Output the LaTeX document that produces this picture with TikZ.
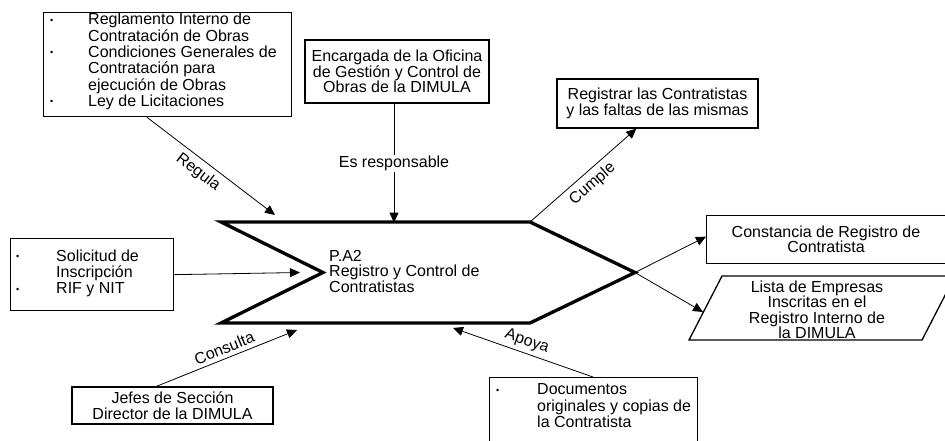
\documentclass[tikz,border=0pt]{standalone}
\usepackage{fontspec}
\setmainfont{Liberation Sans}
\usetikzlibrary{arrows.meta,calc}
\newcommand\dtxt{\fontsize{16}{15.5}\selectfont}
\newcommand\blt{\raisebox{1.5pt}{\fontsize{9}{9}\selectfont\textbullet}}
\tikzset{
  box/.style={draw, line width=1.3pt, inner sep=0pt, font=\dtxt, align=center},
  words/.style={inner sep=0pt, font=\dtxt, align=left},
  link/.style={line width=0.8pt, -{Triangle[length=10pt,width=9pt]}},
  proc/.style={line width=3.3pt, line join=miter},
  tag/.style={font=\dtxt, inner sep=2pt, sloped}
}
\begin{document}
\begin{tikzpicture}[x=1pt,y=-1pt]
\useasboundingbox (0,0) rectangle (945,441);

% process arrow shape
\coordinate (pTL) at (221,222);
\coordinate (pTR) at (530,222);
\coordinate (pTip) at (635,272.5);
\coordinate (pBR) at (530,323);
\coordinate (pBL) at (221,323);
\coordinate (pNotch) at (323,272.5);
\draw[proc] (pTL) -- (pTR) -- (pTip) -- (pBR) -- (pBL) -- (pNotch) -- cycle;
\node[words, anchor=west] (ptxt) at (329,271) {P.A2\\Registro y Control de\\Contratistas};

% regulations
\node[box, minimum width=248pt, minimum height=104pt, anchor=north west] (reg) at (43,12) {};
\node[words, anchor=west] (regtxt) at (50,62) {%
  \begin{tabular}{@{}p{38pt}@{}l@{}}
  \blt & Reglamento Interno de\\
       & Contratación de Obras\\
  \blt & Condiciones Generales de\\
       & Contratación para\\
       & ejecución de Obras\\
  \blt & Ley de Licitaciones
  \end{tabular}};

% responsible
\node[box, minimum width=184pt, minimum height=63pt] (enc) at (397,71.5)
  {Encargada de la Oficina\\de Gestión y Control de\\Obras de la DIMULA};

% purpose
\node[box, minimum width=201pt, minimum height=49pt] (cum) at (657.5,103.5)
  {Registrar las Contratistas\\y las faltas de las mismas};

% inputs
\node[box, minimum width=163pt, minimum height=72pt, anchor=north west] (inp) at (10,238) {};
\node[words, anchor=west] (inptxt) at (16,274) {%
  \begin{tabular}{@{}p{40pt}@{}l@{}}
  \blt & Solicitud de\\
       & Inscripción\\
  \blt & RIF y NIT
  \end{tabular}};

% outputs
\node[box, minimum width=244pt, minimum height=48pt, anchor=north west] (const) at (706,215) {};
\node[words, align=center] (consttxt) at (826,239.5) {Constancia de Registro de\\Contratista};

\coordinate (lBL) at (689,340);
\coordinate (lTL) at (722,276);
\coordinate (lTR) at (955,276);
\coordinate (lBR) at (922,340);
\draw[line width=1.3pt] (lBL) -- (lTL) -- (lTR) -- (lBR) -- cycle;
\node[words, align=center] (lista) at (817,310)
  {Lista de Empresas\\Inscritas en el\\Registro Interno de\\la DIMULA};
\coordinate (lIn) at (703,312);

% consulted
\node[box, minimum width=201pt, minimum height=37pt] (jef) at (172.5,405.5)
  {Jefes de Sección\\Director de la DIMULA};

% support
\node[box, minimum width=208pt, minimum height=80pt, anchor=north west] (doc) at (489,377) {};
\node[words, anchor=west] (doctxt) at (496,408) {%
  \begin{tabular}{@{}p{41pt}@{}l@{}}
  \blt & Documentos\\
       & originales y copias de\\
       & la Contratista
  \end{tabular}};

% connectors
\draw[link] ($(reg.south west)+(104,0)$) -- (275,215)
  node[tag, below=3pt, pos=0.46] {Regula};
\draw[link] ($(enc.south)+(-3,0)$) -- ($(enc.south)+(-3,119)$)
  node[pos=0.5, fill=white, inner sep=1pt, font=\dtxt] {Es responsable};
\draw[link] (pTR) -- ($(cum.south west)+(80,0)$)
  node[tag, below=3pt, pos=0.51] {Cumple};
\draw[link] (inp.east) -- ($(pNotch)+(-23,0)$);
\draw[link] (pTip) -- ($(const.west)+(0,-3)$);
\draw[link] (pTip) -- (lIn);
\draw[link] ($(jef.north west)+(85,0)$) -- (297,330)
  node[tag, above=2pt, pos=0.51] {Consulta};
\draw[link] ($(doc.north west)+(104,0)$) -- (453,328)
  node[tag, above=2pt, pos=0.5] {Apoya};
\end{tikzpicture}
\end{document}
